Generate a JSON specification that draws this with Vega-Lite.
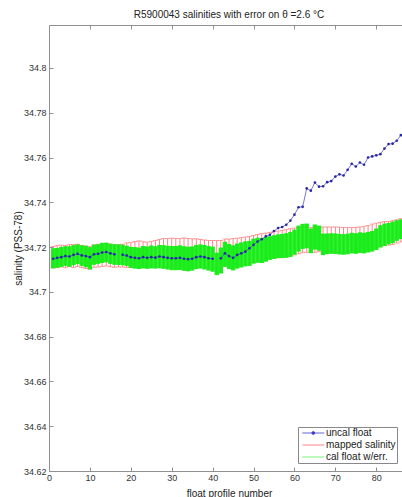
{
"$schema":"https://vega.github.io/schema/vega-lite/v6.json",
"autosize":"none",
"padding":{"left":49,"top":25,"right":0,"bottom":26},
"width":360,
"height":446,
"title":{"text":"R5900043 salinities with error on θ =2.6 °C","fontSize":10,"fontWeight":"normal","color":"#222","offset":5},
"data":{"values":[
{"p":1,"u":34.7148,"c":34.7150,"ec":0.0045,"m":34.7155,"em":0.0048},
{"p":2,"u":34.7152,"c":34.7152,"ec":0.0044,"m":34.7158,"em":0.0050},
{"p":3,"u":34.7155,"c":34.7156,"ec":0.0045,"m":34.7160,"em":0.0049},
{"p":4,"u":34.7160,"c":34.7160,"ec":0.0044,"m":34.7158,"em":0.0050},
{"p":5,"u":34.7158,"c":34.7158,"ec":0.0046,"m":34.7162,"em":0.0049},
{"p":6,"u":34.7165,"c":34.7164,"ec":0.0045,"m":34.7160,"em":0.0051},
{"p":7,"u":34.7170,"c":34.7168,"ec":0.0044,"m":34.7163,"em":0.0050},
{"p":8,"u":34.7163,"c":34.7162,"ec":0.0046,"m":34.7158,"em":0.0049},
{"p":9,"u":34.7160,"c":34.7158,"ec":0.0048,"m":34.7155,"em":0.0050},
{"p":10,"u":34.7155,"c":34.7150,"ec":0.0050,"m":34.7152,"em":0.0050},
{"p":11,"u":34.7168,"c":34.7166,"ec":0.0045,"m":34.7160,"em":0.0050},
{"p":12,"u":34.7170,"c":34.7169,"ec":0.0044,"m":34.7162,"em":0.0051},
{"p":13,"u":34.7176,"c":34.7174,"ec":0.0045,"m":34.7165,"em":0.0052},
{"p":14,"u":34.7178,"c":34.7176,"ec":0.0044,"m":34.7166,"em":0.0050},
{"p":15,"u":34.7172,"c":34.7170,"ec":0.0045,"m":34.7163,"em":0.0051},
{"p":16,"u":34.7168,"c":34.7167,"ec":0.0046,"m":34.7160,"em":0.0050},
{"p":17,"u":null,"c":34.7166,"ec":0.0046,"m":34.7161,"em":0.0050},
{"p":18,"u":34.7166,"c":34.7165,"ec":0.0046,"m":34.7162,"em":0.0051},
{"p":19,"u":34.7162,"c":34.7161,"ec":0.0045,"m":34.7164,"em":0.0055},
{"p":20,"u":34.7155,"c":34.7154,"ec":0.0047,"m":34.7165,"em":0.0055},
{"p":21,"u":34.7152,"c":34.7152,"ec":0.0048,"m":34.7167,"em":0.0058},
{"p":22,"u":34.7150,"c":34.7150,"ec":0.0048,"m":34.7168,"em":0.0060},
{"p":23,"u":34.7155,"c":34.7155,"ec":0.0050,"m":34.7166,"em":0.0058},
{"p":24,"u":34.7152,"c":34.7153,"ec":0.0050,"m":34.7165,"em":0.0057},
{"p":25,"u":34.7155,"c":34.7156,"ec":0.0051,"m":34.7168,"em":0.0058},
{"p":26,"u":34.7153,"c":34.7154,"ec":0.0050,"m":34.7170,"em":0.0060},
{"p":27,"u":34.7158,"c":34.7158,"ec":0.0052,"m":34.7172,"em":0.0062},
{"p":28,"u":34.7155,"c":34.7156,"ec":0.0053,"m":34.7175,"em":0.0063},
{"p":29,"u":34.7152,"c":34.7153,"ec":0.0053,"m":34.7176,"em":0.0062},
{"p":30,"u":34.7150,"c":34.7151,"ec":0.0054,"m":34.7178,"em":0.0062},
{"p":31,"u":34.7150,"c":34.7151,"ec":0.0054,"m":34.7177,"em":0.0061},
{"p":32,"u":34.7152,"c":34.7153,"ec":0.0055,"m":34.7176,"em":0.0062},
{"p":33,"u":34.7148,"c":34.7149,"ec":0.0055,"m":34.7178,"em":0.0063},
{"p":34,"u":34.7146,"c":34.7147,"ec":0.0055,"m":34.7177,"em":0.0062},
{"p":35,"u":34.7148,"c":34.7149,"ec":0.0054,"m":34.7176,"em":0.0061},
{"p":36,"u":34.7155,"c":34.7156,"ec":0.0054,"m":34.7175,"em":0.0062},
{"p":37,"u":34.7158,"c":34.7158,"ec":0.0054,"m":34.7174,"em":0.0060},
{"p":38,"u":34.7155,"c":34.7155,"ec":0.0055,"m":34.7172,"em":0.0060},
{"p":39,"u":34.7150,"c":34.7150,"ec":0.0055,"m":34.7170,"em":0.0060},
{"p":40,"u":34.7148,"c":34.7146,"ec":0.0056,"m":34.7170,"em":0.0060},
{"p":41,"u":null,"c":34.7125,"ec":0.0050,"m":34.7168,"em":0.0061},
{"p":42,"u":34.7150,"c":34.7140,"ec":0.0058,"m":34.7170,"em":0.0060},
{"p":43,"u":34.7172,"c":34.7168,"ec":0.0056,"m":34.7175,"em":0.0061},
{"p":44,"u":34.7160,"c":34.7158,"ec":0.0056,"m":34.7176,"em":0.0060},
{"p":45,"u":34.7152,"c":34.7152,"ec":0.0056,"m":34.7178,"em":0.0060},
{"p":46,"u":34.7165,"c":34.7160,"ec":0.0056,"m":34.7180,"em":0.0060},
{"p":47,"u":34.7172,"c":34.7165,"ec":0.0056,"m":34.7182,"em":0.0060},
{"p":48,"u":34.7180,"c":34.7170,"ec":0.0056,"m":34.7185,"em":0.0060},
{"p":49,"u":34.7195,"c":34.7172,"ec":0.0056,"m":34.7188,"em":0.0060},
{"p":50,"u":34.7210,"c":34.7182,"ec":0.0056,"m":34.7192,"em":0.0060},
{"p":51,"u":34.7225,"c":34.7186,"ec":0.0056,"m":34.7196,"em":0.0060},
{"p":52,"u":34.7235,"c":34.7185,"ec":0.0056,"m":34.7200,"em":0.0060},
{"p":53,"u":34.7248,"c":34.7190,"ec":0.0055,"m":34.7203,"em":0.0060},
{"p":54,"u":34.7255,"c":34.7196,"ec":0.0053,"m":34.7206,"em":0.0060},
{"p":55,"u":34.7272,"c":34.7200,"ec":0.0053,"m":34.7210,"em":0.0060},
{"p":56,"u":34.7285,"c":34.7204,"ec":0.0053,"m":34.7212,"em":0.0060},
{"p":57,"u":34.7290,"c":34.7205,"ec":0.0054,"m":34.7215,"em":0.0060},
{"p":58,"u":34.7300,"c":34.7207,"ec":0.0055,"m":34.7218,"em":0.0060},
{"p":59,"u":34.7318,"c":34.7212,"ec":0.0056,"m":34.7222,"em":0.0060},
{"p":60,"u":34.7345,"c":34.7222,"ec":0.0056,"m":34.7225,"em":0.0060},
{"p":61,"u":34.7378,"c":34.7238,"ec":0.0058,"m":34.7228,"em":0.0058},
{"p":62,"u":34.7380,"c":34.7248,"ec":0.0056,"m":34.7232,"em":0.0057},
{"p":63,"u":34.7462,"c":34.7250,"ec":0.0055,"m":34.7233,"em":0.0056},
{"p":64,"u":34.7452,"c":34.7228,"ec":0.0055,"m":34.7232,"em":0.0056},
{"p":65,"u":34.7488,"c":34.7245,"ec":0.0056,"m":34.7233,"em":0.0056},
{"p":66,"u":34.7470,"c":34.7240,"ec":0.0056,"m":34.7234,"em":0.0055},
{"p":67,"u":34.7472,"c":34.7212,"ec":0.0048,"m":34.7235,"em":0.0055},
{"p":68,"u":34.7490,"c":34.7215,"ec":0.0046,"m":34.7236,"em":0.0054},
{"p":69,"u":34.7495,"c":34.7216,"ec":0.0046,"m":34.7236,"em":0.0054},
{"p":70,"u":34.7515,"c":34.7215,"ec":0.0046,"m":34.7235,"em":0.0055},
{"p":71,"u":34.7525,"c":34.7213,"ec":0.0046,"m":34.7234,"em":0.0055},
{"p":72,"u":34.7520,"c":34.7212,"ec":0.0046,"m":34.7233,"em":0.0055},
{"p":73,"u":34.7545,"c":34.7214,"ec":0.0046,"m":34.7232,"em":0.0055},
{"p":74,"u":34.7572,"c":34.7218,"ec":0.0046,"m":34.7232,"em":0.0055},
{"p":75,"u":34.7560,"c":34.7216,"ec":0.0046,"m":34.7233,"em":0.0055},
{"p":76,"u":34.7578,"c":34.7220,"ec":0.0046,"m":34.7235,"em":0.0055},
{"p":77,"u":34.7568,"c":34.7218,"ec":0.0046,"m":34.7238,"em":0.0055},
{"p":78,"u":34.7600,"c":34.7222,"ec":0.0046,"m":34.7242,"em":0.0055},
{"p":79,"u":34.7605,"c":34.7226,"ec":0.0046,"m":34.7248,"em":0.0055},
{"p":80,"u":34.7610,"c":34.7235,"ec":0.0048,"m":34.7252,"em":0.0055},
{"p":81,"u":34.7615,"c":34.7248,"ec":0.0050,"m":34.7256,"em":0.0054},
{"p":82,"u":34.7640,"c":34.7255,"ec":0.0050,"m":34.7260,"em":0.0054},
{"p":83,"u":34.7660,"c":34.7260,"ec":0.0048,"m":34.7262,"em":0.0053},
{"p":84,"u":34.7662,"c":34.7266,"ec":0.0048,"m":34.7265,"em":0.0053},
{"p":85,"u":34.7675,"c":34.7274,"ec":0.0046,"m":34.7270,"em":0.0052},
{"p":86,"u":34.7700,"c":34.7280,"ec":0.0044,"m":34.7275,"em":0.0052},
{"p":87,"u":34.7705,"c":34.7285,"ec":0.0043,"m":34.7278,"em":0.0051}
]},
"layer":[
{"mark":{"type":"errorbar","ticks":true,"size":5,"thickness":0.8},
 "encoding":{
  "x":{"field":"p","type":"quantitative","scale":{"domain":[0,88],"nice":false,"zero":false},
   "axis":{"orient":"bottom","values":[0,10,20,30,40,50,60,70,80],"tickSize":-4,"labelPadding":6,"labelFontSize":9,"labelColor":"#333","domainColor":"#909090","tickColor":"#909090","title":"float profile number","titleFontSize":10,"titleFontWeight":"normal","titleColor":"#222","titleY":17,"grid":false,"labelFlush":false}},
  "y":{"field":"m","type":"quantitative","scale":{"domain":[34.62,34.8192],"nice":false,"zero":false},
   "axis":{"values":[34.62,34.64,34.66,34.68,34.7,34.72,34.74,34.76,34.78,34.8],"format":".2~f","tickSize":-4,"labelPadding":7,"labelFontSize":9,"labelColor":"#333","domainColor":"#909090","tickColor":"#909090","title":"salinity (PSS-78)","titleFontSize":10,"titleFontWeight":"normal","titleColor":"#222","titleX":-26,"grid":false,"labelFlush":false}},
  "yError":{"field":"em"},
  "color":{"datum":"mapped salinity","scale":{"domain":["uncal float","mapped salinity","cal float w/err."],"range":["#3c3cc8","#ff6464","#1ef01e"]},
   "legend":{"title":null,"orient":"none","legendX":249,"legendY":402,"strokeColor":"#888","fillColor":"white","padding":1,"labelFontSize":10,"labelColor":"#222","symbolSize":120,"symbolStrokeWidth":0.8,"rowPadding":2,"labelOffset":17,"symbolType":"stroke",
    "encode":{"symbols":{"update":{"shape":{"signal":"datum.value === 'uncal float' ? 'M-0.3,0H3.7M1.43,0A0.27,0.27,0,1,0,1.97,0A0.27,0.27,0,1,0,1.43,0' : 'M-0.3,0H3.7'"},"fill":{"signal":"datum.value === 'uncal float' ? '#2828a0' : 'transparent'"},"stroke":{"signal":"datum.value === 'cal float w/err.' ? '#7fd87f' : scale('color', datum.value)"},"strokeWidth":{"signal":"datum.value === 'cal float w/err.' ? 0.6 : 0.8"}}}}}}
 }},
{"mark":{"type":"errorbar","thickness":4.4,"color":"#1ef01e"},
 "encoding":{
  "x":{"field":"p","type":"quantitative","axis":null},
  "y":{"field":"c","type":"quantitative","axis":null},
  "yError":{"field":"ec"}
 }},
{"mark":{"type":"errorbar","thickness":0.6,"color":"#3c9c3c","opacity":0.25},
 "encoding":{
  "x":{"field":"p","type":"quantitative","axis":null},
  "y":{"field":"c","type":"quantitative","axis":null},
  "yError":{"field":"ec"}
 }},
{"mark":{"type":"line","strokeWidth":0.7},
 "encoding":{
  "x":{"field":"p","type":"quantitative","axis":{"orient":"top","values":[0,10,20,30,40,50,60,70,80],"tickSize":-4,"labels":false,"title":null,"domainColor":"#909090","tickColor":"#909090","grid":false}},
  "y":{"field":"u","type":"quantitative","axis":null},
  "color":{"datum":"uncal float"}
 }},
{"mark":{"type":"point","filled":true,"size":7,"color":"#2828a0","opacity":1},
 "encoding":{
  "x":{"field":"p","type":"quantitative","axis":null},
  "y":{"field":"u","type":"quantitative","axis":null}
 }}
],
"resolve":{"axis":{"x":"independent","y":"independent"}},
"config":{"font":"Liberation Sans","view":{"stroke":null}}
}
